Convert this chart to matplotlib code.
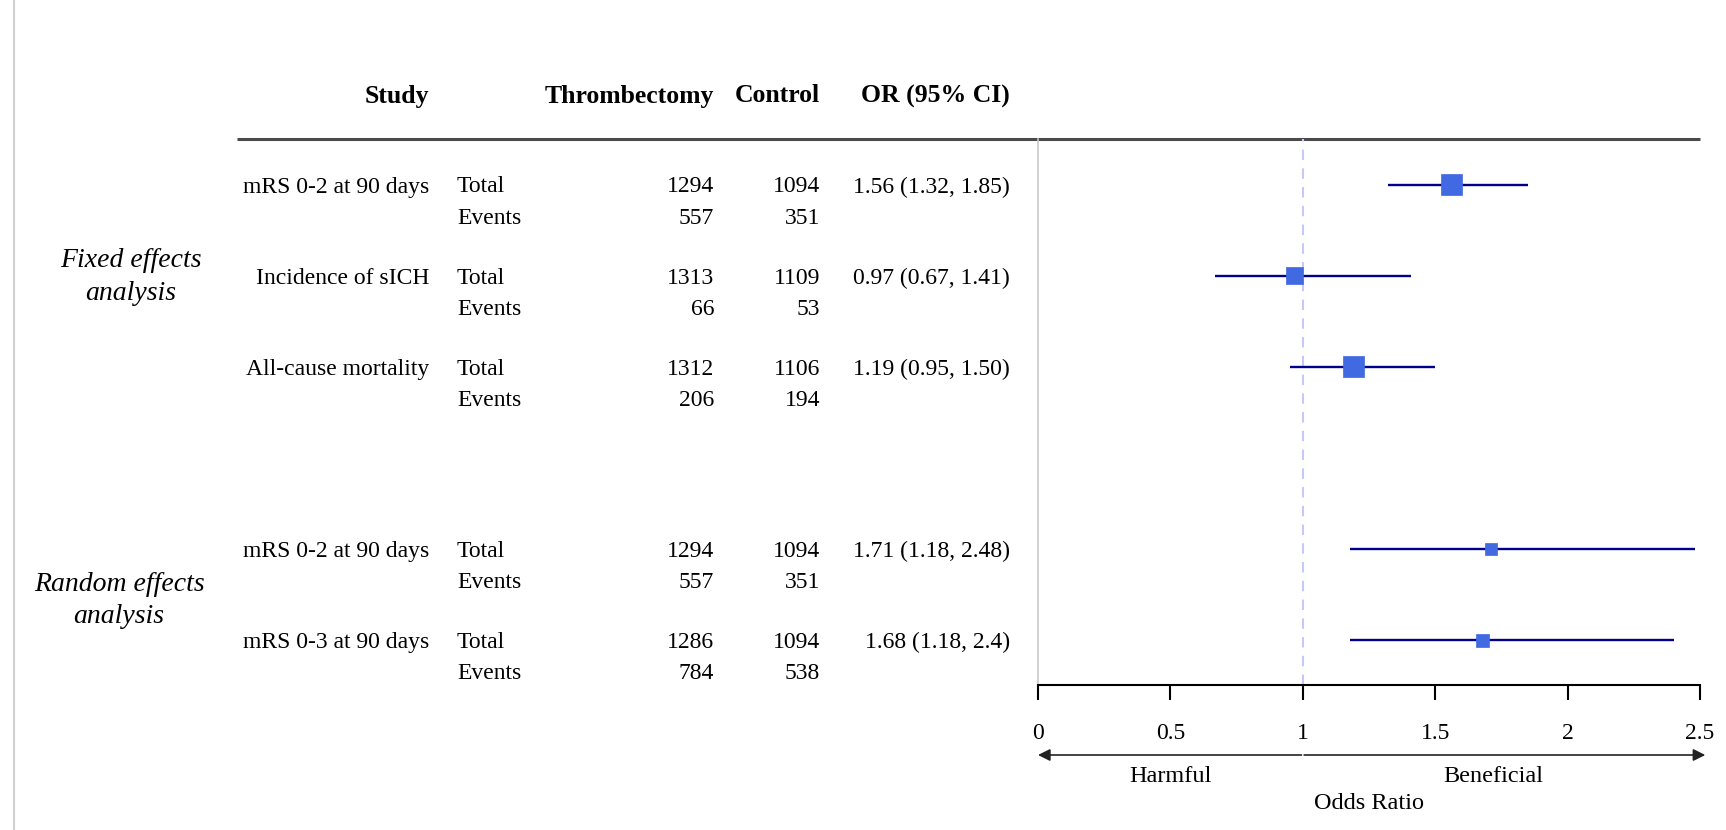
import matplotlib
matplotlib.use("Agg")
import matplotlib.pyplot as plt
from matplotlib.transforms import blended_transform_factory

plt.rcParams['font.family'] = ['Liberation Serif', 'DejaVu Serif']

# ---------------- data ----------------
headers = ["Study", "Thrombectomy", "Control", "OR (95% CI)"]
group_labels = ["Fixed effects\nanalysis", "Random effects\nanalysis"]
studies = ["mRS 0-2 at 90 days", "Incidence of sICH", "All-cause mortality",
           "mRS 0-2 at 90 days", "mRS 0-3 at 90 days"]
study_group = [0, 0, 0, 1, 1]
thromb_total = [1294, 1313, 1312, 1294, 1286]
thromb_events = [557, 66, 206, 557, 784]
control_total = [1094, 1109, 1106, 1094, 1094]
control_events = [351, 53, 194, 351, 538]
or_est = [1.56, 0.97, 1.19, 1.71, 1.68]
ci_low = [1.32, 0.67, 0.95, 1.18, 1.18]
ci_high = [1.85, 1.41, 1.50, 2.48, 2.40]
or_text = ["1.56 (1.32, 1.85)", "0.97 (0.67, 1.41)", "1.19 (0.95, 1.50)",
           "1.71 (1.18, 2.48)", "1.68 (1.18, 2.4)"]
box_weight = [21, 17, 21, 12, 13]
x_ticks = [0, 0.5, 1, 1.5, 2, 2.5]
x_tick_labels = ["0", "0.5", "1", "1.5", "2", "2.5"]

# ---------------- layout ----------------
W, H = 1726, 830
fig = plt.figure(figsize=(W / 100, H / 100), dpi=100)
bg = fig.add_axes([0, 0, 1, 1])
bg.set_xlim(0, W)
bg.set_ylim(H, 0)
bg.axis('off')

ROW0, STEP, EV_OFF = 185, 91, 31
AX_L, AX_R, AX_T, AX_B = 1038, 1700, 139, 685
TXT_DY = 2
slots = [i + g for i, g in enumerate(study_group)]

def ypx(s):
    return ROW0 + STEP * s

FS = 17
# left border
bg.plot([14, 14], [0, H], color='#d0d0d0', lw=1.5)
# header
hy = 96
hx = [429, 714, 820, 1010]
for x, h in zip(hx, headers):
    bg.text(x, hy, h, ha='right', va='center', fontsize=18.5, fontweight='bold')
bg.plot([237, AX_R], [AX_T, AX_T], color='#4a4a4a', lw=2.2, solid_capstyle='butt', zorder=5)

# group labels
group_x = [131, 119]
group_dy = [1, 6]
for g, lab in enumerate(group_labels):
    ss = [ypx(s) for s, gg in zip(slots, study_group) if gg == g]
    yc = sum(ss) / len(ss) + group_dy[g]
    bg.text(group_x[g], yc, lab, ha='center', va='center', fontsize=20,
            style='italic', linespacing=1.4)

for i, s in enumerate(slots):
    y1 = ypx(s) + TXT_DY
    y2 = y1 + EV_OFF
    bg.text(429, y1, studies[i], ha='right', va='center', fontsize=FS)
    bg.text(457, y1, "Total", ha='left', va='center', fontsize=FS)
    bg.text(457, y2, "Events", ha='left', va='center', fontsize=FS)
    bg.text(714, y1, str(thromb_total[i]), ha='right', va='center', fontsize=FS)
    bg.text(714, y2, str(thromb_events[i]), ha='right', va='center', fontsize=FS)
    bg.text(820, y1, str(control_total[i]), ha='right', va='center', fontsize=FS)
    bg.text(820, y2, str(control_events[i]), ha='right', va='center', fontsize=FS)
    bg.text(1010, y1, or_text[i], ha='right', va='center', fontsize=FS)

# ---------------- forest axes ----------------
ax = fig.add_axes([AX_L / W, (H - AX_B) / H, (AX_R - AX_L) / W, (AX_B - AX_T) / H])
ax.set_xlim(0, 2.5)
ax.set_ylim((AX_B - ROW0) / STEP, (AX_T - ROW0) / STEP)
ax.patch.set_alpha(0)
for sp in ['top', 'right']:
    ax.spines[sp].set_visible(False)
ax.spines['left'].set_color('#c8c8c8')
ax.spines['left'].set_linewidth(1.2)
ax.spines['bottom'].set_color('black')
ax.spines['bottom'].set_linewidth(1.5)
ax.set_yticks([])
ax.set_xticks(x_ticks)
ax.set_xticklabels(x_tick_labels, fontsize=17)
ax.tick_params(axis='x', direction='out', length=11, width=1.5, pad=16, colors='black')

ax.axvline(1, color='#c8c8f8', ls=(0, (5, 4)), lw=1.5, zorder=1)
ax.hlines(slots, ci_low, ci_high, color='#00008B', lw=1.7, zorder=3)
ax.scatter(or_est, slots, marker='s', s=[(b * 0.72) ** 2 for b in box_weight],
           color='#4169E1', edgecolors='#4169E1', linewidths=0.5, zorder=4)

# arrows and labels under the axis
tr = blended_transform_factory(ax.transData, bg.transData)
ay = 755
bg.annotate("", xy=(0, ay), xytext=(0.995, ay), xycoords=tr, textcoords=tr,
            arrowprops=dict(arrowstyle='-|>', color='#222222', lw=1.2,
                            mutation_scale=18, shrinkA=0, shrinkB=0))
bg.annotate("", xy=(2.52, ay), xytext=(1.005, ay), xycoords=tr, textcoords=tr,
            arrowprops=dict(arrowstyle='-|>', color='#222222', lw=1.2,
                            mutation_scale=18, shrinkA=0, shrinkB=0))
bg.text(0.5, 776, "Harmful", transform=tr, ha='center', va='center', fontsize=17.5)
bg.text(1.72, 776, "Beneficial", transform=tr, ha='center', va='center', fontsize=17.5)
bg.text(1.25, 803, "Odds Ratio", transform=tr, ha='center', va='center', fontsize=17.5)

fig.savefig("out.png", dpi=100)
